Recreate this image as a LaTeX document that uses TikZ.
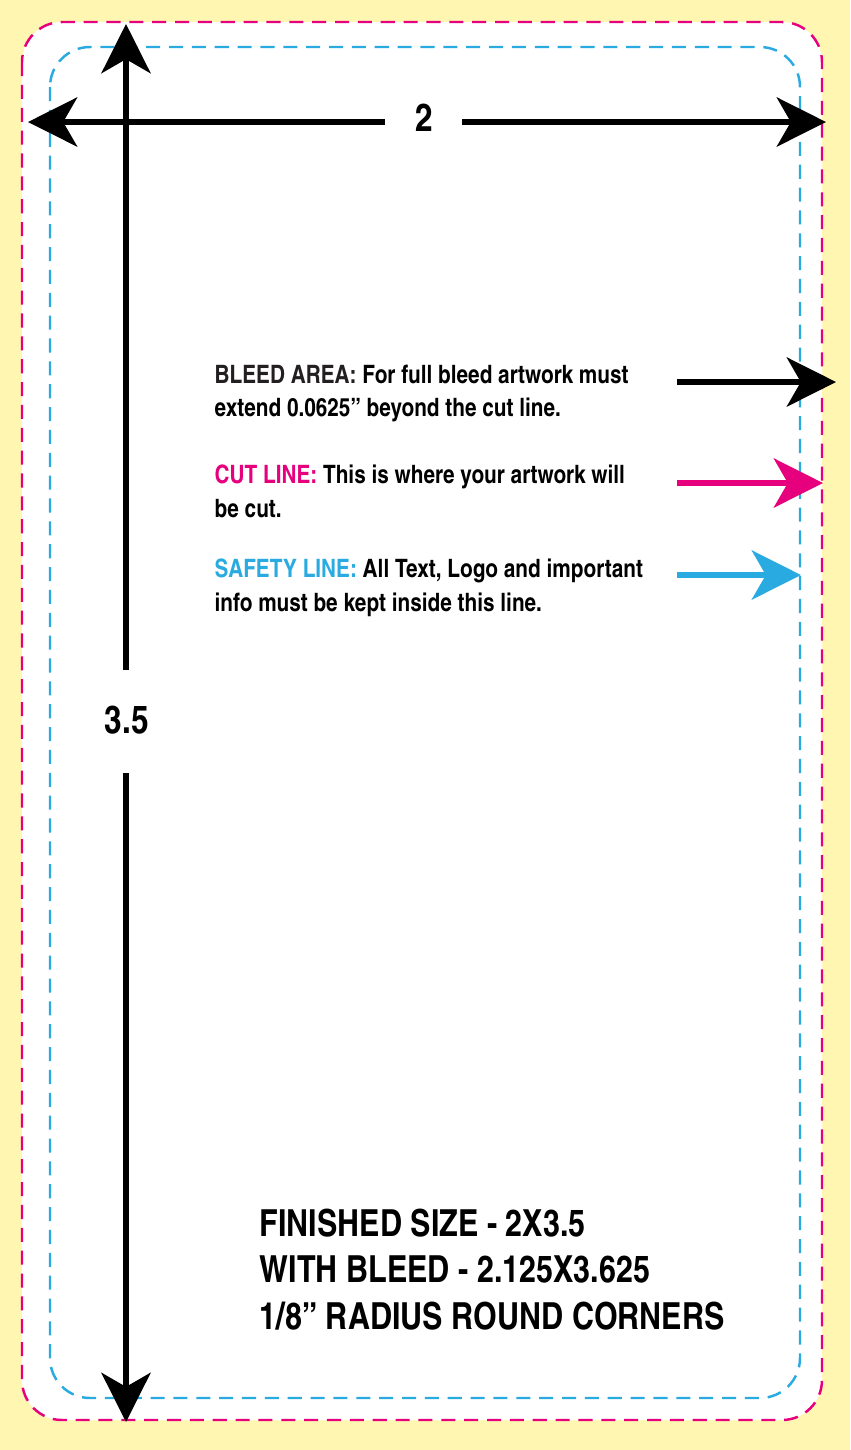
\documentclass[tikz,border=0pt]{standalone}
\usepackage{fontspec}
\setmainfont{TeX Gyre Heros Cn}
\usetikzlibrary{arrows.meta,positioning}
\definecolor{paper}{RGB}{255,246,178}
\definecolor{cutpink}{RGB}{230,0,126}
\definecolor{safeblue}{RGB}{41,171,226}
\definecolor{bleedgray}{RGB}{35,31,32}
\tikzstyle{dimarrow} = [
    line width=1.5pt,
    -{Stealth[length=14pt,width=14pt,inset=4pt]}
]
\tikzstyle{note} = [
    anchor=north west,
    align=left,
    inner sep=0pt,
    font=\fontsize{7.2}{9.6}\selectfont\bfseries
]
\tikzstyle{bignum} = [
    font=\fontsize{11}{13}\selectfont\bfseries,
    inner sep=0pt
]
\begin{document}
\begin{tikzpicture}[x=0.01cm,y=-0.01cm]
    \fill[paper] (0,0) rectangle (850,1450);
    \useasboundingbox (0,0) rectangle (850,1450);
    % card outlines
    \draw[cutpink, fill=white, line width=0.7pt, dash pattern=on 4pt off 2.5pt, rounded corners=0.4cm]
        (22,22) rectangle (822,1420);
    \draw[safeblue, line width=0.7pt, dash pattern=on 4pt off 2.5pt, rounded corners=0.4cm]
        (50,47) rectangle (800,1398);
    % dimensions
    \node[bignum] (w) at (424,118) {2};
    \node[bignum] (h) at (127,720) {3.5};
    \coordinate (wl) at (28,122);
    \coordinate (wr) at (826,122);
    \coordinate (ht) at (126,24);
    \coordinate (hb) at (126,1422);
    \draw[dimarrow] (385,122) -- (wl);
    \draw[dimarrow] (462,122) -- (wr);
    \draw[dimarrow] (126,670) -- (ht);
    \draw[dimarrow] (126,773) -- (hb);
    % legend
    \node[note] (bleed) at (214,364) {{\color{bleedgray}BLEED AREA:} For full bleed artwork must\\extend 0.0625” beyond the cut line.};
    \node[note] (cut) at (214,464) {{\color{cutpink}CUT LINE:} This is where your artwork will\\be cut.};
    \node[note] (safe) at (214,558) {{\color{safeblue}SAFETY LINE:} All Text, Logo and important\\info must be kept inside this line.};
    \coordinate (b1) at (677,382);
    \coordinate (b2) at (836,382);
    \coordinate (c1) at (677,483);
    \coordinate (c2) at (823,483);
    \coordinate (s1) at (677,575);
    \coordinate (s2) at (801,575);
    \draw[dimarrow, black] (b1) -- (b2);
    \draw[dimarrow, cutpink] (c1) -- (c2);
    \draw[dimarrow, safeblue] (s1) -- (s2);
    % finished size
    \node[anchor=north west, align=left, inner sep=0pt, font=\fontsize{10.6}{13.2}\selectfont\bfseries]
        (spec) at (259,1208) {FINISHED SIZE - 2X3.5\\WITH BLEED - 2.125X3.625\\1/8” RADIUS ROUND CORNERS};
\end{tikzpicture}
\end{document}
